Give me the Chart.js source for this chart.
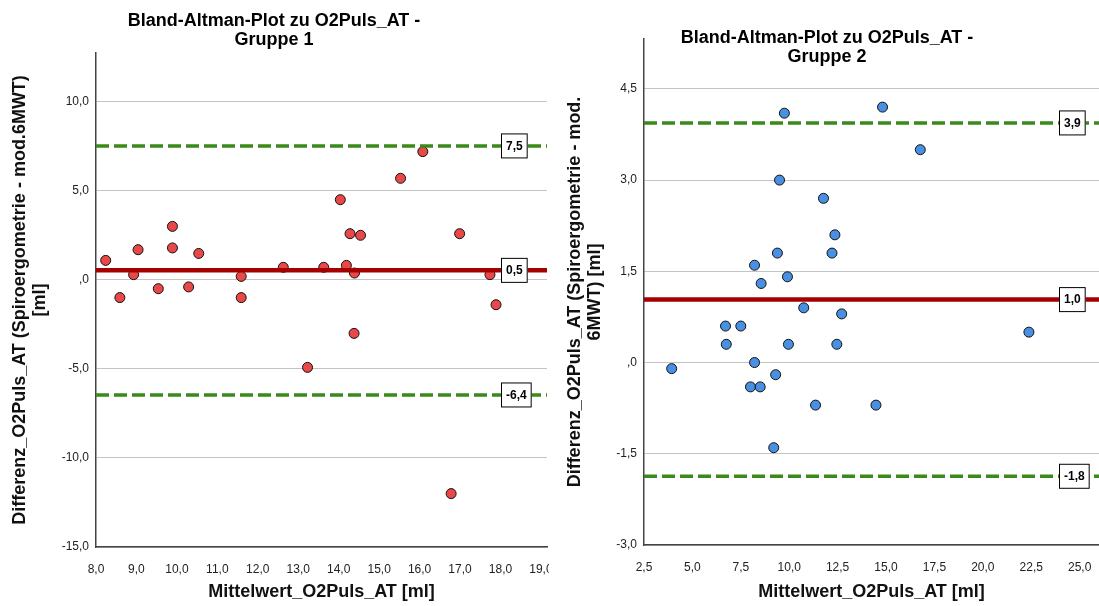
<!DOCTYPE html>
<html>
<head>
<meta charset="utf-8">
<script src="https://cdn.jsdelivr.net/npm/chart.js@4.4.1/dist/chart.umd.min.js"></script>
<style>
  html, body { margin: 0; padding: 0; background: #fff; }
  body { width: 1099px; height: 606px; position: relative; overflow: hidden; }
  .box { position: absolute; top: 0; height: 606px; overflow: hidden; }
  #w1 { left: 0; width: 549px; }
  #w2 { left: 555px; width: 544px; }
</style>
</head>
<body>
<div class="box" id="w1"><canvas id="c1"></canvas></div>
<div class="box" id="w2"><canvas id="c2"></canvas></div>
<script>
// Gruppe 1: Mittelwert (x) und Differenz (y)
const mean1 = [8.24, 9.04, 8.93, 9.89, 9.89, 10.54, 9.54, 10.29, 11.59, 8.59, 11.59, 12.63, 13.63,
  14.04, 14.28, 14.54, 14.19, 14.39, 15.53, 16.08, 16.99, 17.74, 17.89, 14.38, 13.23, 16.78];
const diff1 = [1.10, 1.70, 0.30, 3.01, 1.80, 1.49, -0.49, -0.39, 0.20, -0.99, -0.99, 0.71, 0.71,
  4.51, 2.60, 2.51, 0.82, 0.39, 5.71, 7.21, 2.60, 0.30, -1.39, -3.00, -4.91, -12.00];
// Mittlere Differenz, obere und untere Übereinstimmungsgrenze
const ref1 = [0.54, 7.53, -6.46];
const xTicks1 = [8, 9, 10, 11, 12, 13, 14, 15, 16, 17, 18, 19];
const yTicks1 = [-15, -10, -5, 0, 5, 10];

// Gruppe 2
const mean2 = [9.75, 14.82, 16.77, 9.50, 11.77, 12.36, 9.39, 12.21, 8.21, 8.55, 9.91, 10.75, 12.71,
  22.38, 6.71, 7.50, 6.75, 9.96, 12.46, 8.21, 3.93, 9.30, 8.00, 8.50, 11.36, 14.48, 9.20];
const diff2 = [4.10, 4.20, 3.50, 3.00, 2.70, 2.10, 1.80, 1.80, 1.60, 1.30, 1.41, 0.90, 0.80,
  0.50, 0.60, 0.60, 0.30, 0.30, 0.30, 0.00, -0.10, -0.20, -0.40, -0.40, -0.70, -0.70, -1.40];
const ref2 = [1.035, 3.94, -1.87];
const xTicks2 = [2.5, 5, 7.5, 10, 12.5, 15, 17.5, 20, 22.5, 25];
const yTicks2 = [-3, -1.5, 0, 1.5, 3, 4.5];

const FONT = "'Liberation Sans', Arial, sans-serif";
const RED_LINE = '#a50000';
const GREEN = '#3a8a1a';

// SPSS-Stil: ",0" statt "0,0"
const fmtTick = (v) => v.toFixed(1).replace('.', ',').replace(/^(-?)0,/, '$1,');
const fmtRef = (v) => (Math.trunc(v * 10) / 10).toFixed(1).replace('.', ',');

const overlay = {
  id: 'overlay',
  afterDatasetsDraw(chart, args, opts) {
    const ctx = chart.ctx;
    const ys = chart.scales.y;
    ctx.save();
    // Beschriftungskästchen an den Referenzlinien
    ctx.font = 'bold 12px ' + FONT;
    ctx.textAlign = 'center';
    ctx.textBaseline = 'middle';
    opts.refs.forEach(v => {
      const t = fmtRef(v);
      const w = ctx.measureText(t).width + 10;
      const y = ys.getPixelForValue(v);
      ctx.fillStyle = '#fff';
      ctx.fillRect(opts.boxX, y - 12.5, w, 25);
      ctx.strokeStyle = '#000';
      ctx.lineWidth = 1;
      ctx.strokeRect(opts.boxX + 0.5, y - 12, w - 1, 24);
      ctx.fillStyle = '#000';
      ctx.fillText(t, opts.boxX + w / 2, y + 0.5);
    });
    // Diagrammtitel
    ctx.font = 'bold 18px ' + FONT;
    ctx.textBaseline = 'alphabetic';
    opts.title.forEach((line, i) => {
      ctx.fillText(line, opts.titleX, opts.titleY + i * 19);
    });
    ctx.restore();
  }
};

function makeChart(id, xs, ys, refs, xTicks, yTicks, cfg) {
  const pts = xs.map((x, i) => ({ x, y: ys[i] }));
  const span = (v) => [{ x: cfg.xMin, y: v }, { x: cfg.xMax, y: v }];
  const lineDs = (v, color, width, dash) => ({
    data: span(v), showLine: true, borderColor: color, borderWidth: width,
    borderDash: dash, pointRadius: 0, order: 0
  });
  return new Chart(document.getElementById(id), {
    type: 'scatter',
    data: {
      datasets: [
        lineDs(refs[0], RED_LINE, 4.5, []),
        lineDs(refs[1], GREEN, 3.5, [13, 5]),
        lineDs(refs[2], GREEN, 3.5, [13, 5]),
        {
          data: pts, pointRadius: 5, pointBackgroundColor: cfg.pointColor,
          pointBorderColor: '#111', pointBorderWidth: 1, order: 1
        }
      ]
    },
    options: {
      responsive: false,
      animation: false,
      layout: { autoPadding: false, padding: { top: cfg.top, right: cfg.right, left: 0, bottom: 0 } },
      plugins: {
        legend: { display: false },
        tooltip: { enabled: false },
        overlay: { refs, boxX: cfg.boxX, title: cfg.title, titleX: cfg.titleX, titleY: cfg.titleY }
      },
      scales: {
        x: {
          type: 'linear', min: cfg.xMin, max: cfg.xMax,
          afterBuildTicks: (s) => { s.ticks = xTicks.map(v => ({ value: v })); },
          afterFit: (s) => { s.height = 606 - cfg.bottomPx; s.paddingLeft = 0; s.paddingRight = 0; },
          grid: { display: false },
          border: { display: true, color: '#444', width: 1.5 },
          ticks: { font: { family: FONT, size: 12 }, color: '#222', padding: 7, maxRotation: 0,
            autoSkip: false, callback: (v) => fmtTick(v) },
          title: { display: true, text: 'Mittelwert_O2Puls_AT [ml]', color: '#111',
            font: { family: FONT, size: 18, weight: 'bold', lineHeight: 1.1 },
            padding: { top: 0, bottom: 4 } }
        },
        y: {
          type: 'linear', min: cfg.yMin, max: cfg.yMax,
          afterBuildTicks: (s) => { s.ticks = yTicks.map(v => ({ value: v })); },
          afterFit: (s) => { s.width = cfg.leftPx; s.paddingTop = 0; s.paddingBottom = 0; },
          grid: { display: true, color: '#c4c4c4', lineWidth: 1, drawTicks: false },
          border: { display: true, color: '#444', width: 1.5 },
          ticks: { font: { family: FONT, size: 12 }, color: '#222', padding: 7,
            autoSkip: false, callback: (v) => fmtTick(v) },
          title: { display: true, text: cfg.yTitle, color: '#111',
            font: { family: FONT, size: 18, weight: 'bold', lineHeight: 1.1 },
            padding: { top: 10, bottom: 0 } }
        }
      }
    },
    plugins: [overlay]
  });
}

const c1 = document.getElementById('c1');
c1.width = 549; c1.height = 606;
const c2 = document.getElementById('c2');
c2.width = 544; c2.height = 606;

makeChart('c1', mean1, diff1, ref1, xTicks1, yTicks1, {
  xMin: 8, xMax: 19.15, yMin: -15, yMax: 12.75,
  top: 53, right: 2, leftPx: 96, bottomPx: 547,
  pointColor: '#e84848', boxX: 501,
  title: ['Bland-Altman-Plot zu O2Puls_AT -', 'Gruppe 1'], titleX: 274, titleY: 26,
  yTitle: ['Differenz_O2Puls_AT (Spiroergometrie - mod.6MWT)', '[ml]']
});

makeChart('c2', mean2, diff2, ref2, xTicks2, yTicks2, {
  xMin: 2.5, xMax: 26, yMin: -3, yMax: 5.32,
  top: 39, right: 0, leftPx: 89, bottomPx: 545,
  pointColor: '#4a90e2', boxX: 504,
  title: ['Bland-Altman-Plot zu O2Puls_AT -', 'Gruppe 2'], titleX: 272, titleY: 43,
  yTitle: ['Differenz_O2Puls_AT (Spiroergometrie - mod.', '6MWT) [ml]']
});
</script>
</body>
</html>
